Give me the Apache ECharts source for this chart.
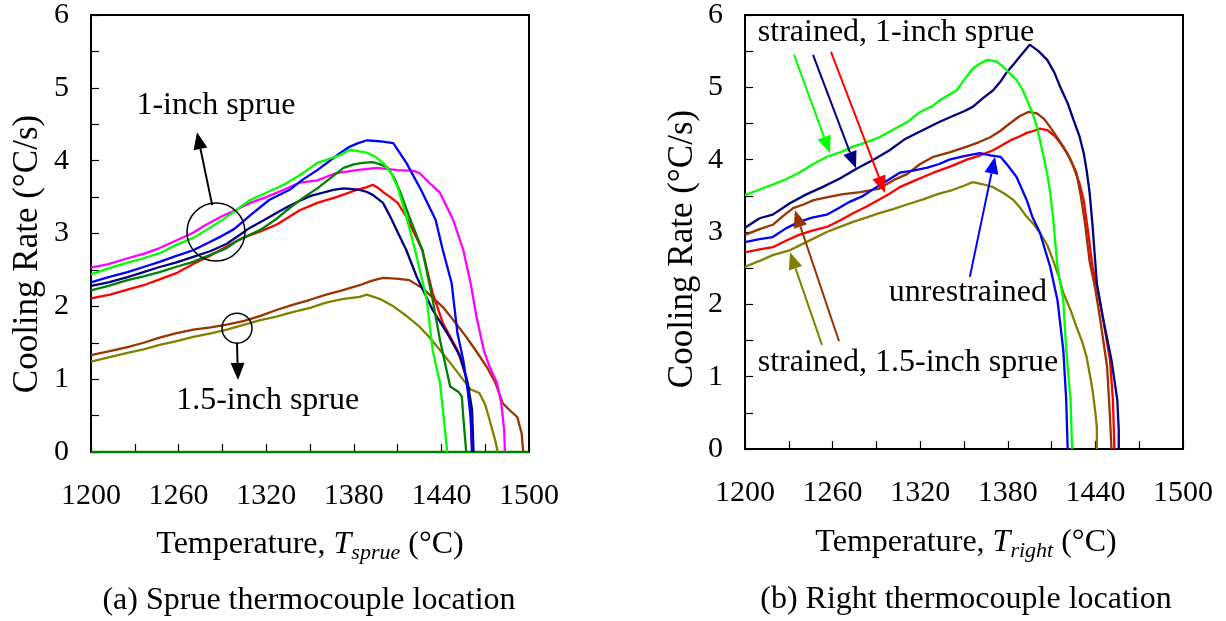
<!DOCTYPE html>
<html><head><meta charset="utf-8">
<script src="https://cdn.jsdelivr.net/npm/echarts@6/dist/echarts.min.js"></script>
<style>html,body{margin:0;padding:0;background:#fff}#c{width:1226px;height:621px}</style>
</head><body><div id="c"></div>
<script>
const FONT = '"Liberation Serif","Times New Roman",serif';
const xTickLabels = [1200, 1260, 1320, 1380, 1440, 1500];
const yTickLabels = [0, 1, 2, 3, 4, 5, 6];

// (a) Sprue thermocouple location  [T (°C), cooling rate (°C/s)]
const sprueMagenta = [[1200,2.53],[1212,2.58],[1225,2.66],[1236,2.72],[1247,2.8],[1258,2.9],[1270,3.01],[1277,3.1],[1290,3.24],[1300,3.33],[1309,3.42],[1320,3.5],[1332,3.6],[1343,3.7],[1355,3.73],[1368,3.83],[1382,3.87],[1396,3.9],[1410,3.87],[1421,3.86],[1425,3.83],[1432,3.69],[1439,3.56],[1448,3.19],[1455,2.77],[1460,2.32],[1464,1.86],[1469,1.4],[1473,1.17],[1478,0.95],[1481,0.67],[1483,0.3],[1483.5,0]];
const sprueGreen = [[1200,2.44],[1212,2.52],[1225,2.6],[1236,2.66],[1247,2.73],[1258,2.84],[1270,2.94],[1280,3.06],[1288,3.16],[1298,3.3],[1309,3.46],[1320,3.56],[1332,3.67],[1343,3.8],[1355,3.97],[1364,4.03],[1371,4.08],[1377,4.15],[1383,4.13],[1389,4.11],[1395,4.05],[1400,3.97],[1405,3.85],[1410,3.64],[1416,3.23],[1422,2.77],[1430,2.09],[1434,1.4],[1439,0.95],[1441,0.58],[1443,0.2],[1444,0]];
const sprueBlue = [[1200,2.33],[1212,2.4],[1225,2.47],[1236,2.54],[1247,2.61],[1258,2.69],[1270,2.77],[1280,2.87],[1288,2.95],[1298,3.06],[1309,3.25],[1322,3.46],[1336,3.6],[1345,3.74],[1355,3.87],[1363,3.99],[1371,4.11],[1377,4.19],[1383,4.24],[1389,4.28],[1395,4.27],[1400,4.26],[1407,4.24],[1411,4.12],[1416,3.97],[1426,3.6],[1436,3.19],[1441,2.77],[1447,2.32],[1451,1.63],[1455,1.26],[1458,0.85],[1460,0.48],[1461,0]];
const sprueNavy = [[1200,2.28],[1212,2.33],[1225,2.4],[1236,2.47],[1247,2.54],[1258,2.6],[1270,2.68],[1282,2.76],[1293,2.86],[1301,2.97],[1309,3.08],[1318,3.18],[1327,3.28],[1335,3.37],[1343,3.45],[1351,3.52],[1359,3.56],[1366,3.6],[1373,3.62],[1379,3.61],[1384,3.6],[1389,3.57],[1393,3.53],[1400,3.42],[1405,3.23],[1410,3.02],[1416,2.77],[1423,2.41],[1434,1.95],[1444,1.63],[1453,1.31],[1458,0.95],[1461,0.58],[1462,0]];
const sprueDarkGreen = [[1200,2.22],[1212,2.28],[1225,2.36],[1236,2.41],[1247,2.47],[1258,2.54],[1270,2.61],[1282,2.71],[1293,2.8],[1300,2.9],[1316,3.05],[1327,3.2],[1336,3.35],[1346,3.5],[1355,3.62],[1364,3.76],[1373,3.9],[1380,3.95],[1386,3.97],[1393,3.98],[1398,3.95],[1403,3.91],[1408,3.75],[1412,3.56],[1418,3.23],[1427,2.77],[1434,2.09],[1439,1.54],[1444,1.08],[1446,0.9],[1452,0.82],[1454,0.76],[1455,0.48],[1457,0]];
const sprueRed = [[1200,2.11],[1213,2.16],[1225,2.23],[1236,2.29],[1247,2.37],[1259,2.46],[1270,2.58],[1282,2.7],[1293,2.82],[1304,2.94],[1316,3.03],[1327,3.12],[1335,3.22],[1343,3.32],[1355,3.42],[1368,3.5],[1382,3.6],[1388,3.63],[1393,3.67],[1397,3.62],[1400,3.57],[1405,3.5],[1410,3.42],[1416,3.23],[1427,2.77],[1434,2.18],[1441,1.77],[1451,1.4],[1457,1.03],[1460,0.58],[1461,0]];
const sprueBrown = [[1200,1.33],[1212,1.38],[1225,1.44],[1236,1.5],[1247,1.57],[1258,1.63],[1270,1.68],[1282,1.71],[1293,1.75],[1305,1.8],[1316,1.87],[1327,1.95],[1338,2.02],[1350,2.09],[1361,2.16],[1372,2.22],[1384,2.29],[1392,2.35],[1400,2.39],[1409,2.38],[1418,2.36],[1427,2.25],[1434,2.12],[1441,1.99],[1449,1.79],[1457,1.58],[1464,1.38],[1471,1.17],[1477,0.95],[1482,0.67],[1487,0.57],[1492,0.48],[1495,0.25],[1496,0]];
const sprueOlive = [[1200,1.24],[1212,1.3],[1225,1.36],[1236,1.41],[1247,1.47],[1258,1.52],[1270,1.58],[1282,1.63],[1293,1.68],[1305,1.75],[1316,1.81],[1327,1.86],[1338,1.92],[1350,1.98],[1361,2.05],[1372,2.1],[1384,2.13],[1389,2.16],[1398,2.1],[1407,2.0],[1416,1.87],[1425,1.72],[1432,1.57],[1439,1.4],[1447,1.2],[1455,0.99],[1460,0.86],[1466,0.81],[1470,0.65],[1473,0.44],[1477,0.15],[1478.5,0]];
const sprueZero = [[1200,0],[1500,0]];

// (b) Right thermocouple location
const rightGreen = [[1200,3.51],[1209,3.58],[1218,3.65],[1228,3.73],[1237,3.82],[1246,3.93],[1256,4.04],[1265,4.1],[1274,4.18],[1283,4.24],[1292,4.31],[1302,4.42],[1311,4.52],[1320,4.66],[1329,4.75],[1334,4.83],[1340,4.9],[1345,4.96],[1350,5.1],[1356,5.26],[1361,5.33],[1366,5.38],[1372,5.36],[1376,5.3],[1379,5.24],[1386,5.1],[1390,4.97],[1393,4.83],[1397,4.64],[1400,4.45],[1404,4.09],[1407,3.8],[1409,3.55],[1411,3.2],[1414,2.52],[1418,2.06],[1420,1.37],[1423,0.68],[1424,0]];
const rightNavy = [[1200,3.06],[1210,3.19],[1219,3.24],[1231,3.4],[1242,3.52],[1253,3.62],[1265,3.74],[1277,3.88],[1288,4.0],[1299,4.13],[1310,4.29],[1322,4.41],[1333,4.52],[1342,4.6],[1350,4.67],[1356,4.73],[1363,4.85],[1370,4.96],[1375,5.08],[1379,5.2],[1384,5.32],[1388,5.42],[1395,5.59],[1401,5.5],[1407,5.38],[1412,5.2],[1416,5.0],[1421,4.78],[1425,4.55],[1429,4.33],[1432,4.09],[1434,3.85],[1436,3.55],[1438,3.1],[1441,2.29],[1445,1.83],[1451,1.23],[1455,0.68],[1456,0.26],[1456,0]];
const rightBrown = [[1200,2.96],[1210,3.04],[1219,3.1],[1226,3.22],[1233,3.33],[1240,3.38],[1247,3.44],[1256,3.48],[1266,3.52],[1279,3.55],[1292,3.6],[1302,3.72],[1311,3.8],[1320,3.94],[1329,4.04],[1340,4.1],[1352,4.18],[1360,4.24],[1368,4.31],[1375,4.4],[1382,4.51],[1388,4.6],[1394,4.66],[1400,4.64],[1405,4.56],[1409,4.45],[1414,4.3],[1418,4.18],[1423,4.0],[1427,3.82],[1430,3.5],[1433,3.1],[1436,2.6],[1440,2.2],[1443,1.83],[1448,1.14],[1450,0.44],[1451,0]];
const rightBlue = [[1200,2.86],[1210,2.9],[1219,2.93],[1228,3.05],[1237,3.14],[1246,3.2],[1256,3.24],[1264,3.33],[1272,3.42],[1281,3.5],[1290,3.62],[1298,3.72],[1306,3.82],[1315,3.85],[1325,3.89],[1333,3.94],[1340,4.0],[1350,4.05],[1361,4.09],[1368,4.06],[1375,4.04],[1380,3.92],[1386,3.76],[1393,3.44],[1397,3.2],[1402,2.99],[1409,2.52],[1414,2.06],[1418,1.37],[1420,0.68],[1421,0]];
const rightRed = [[1200,2.72],[1210,2.76],[1219,2.79],[1228,2.88],[1237,2.96],[1246,3.02],[1256,3.07],[1265,3.16],[1274,3.26],[1283,3.35],[1292,3.45],[1299,3.53],[1306,3.62],[1315,3.7],[1329,3.82],[1340,3.9],[1352,4.0],[1361,4.06],[1370,4.13],[1376,4.2],[1382,4.27],[1388,4.32],[1393,4.37],[1398,4.4],[1402,4.43],[1407,4.41],[1412,4.33],[1416,4.23],[1421,4.08],[1425,3.9],[1429,3.68],[1432,3.44],[1435,3.0],[1438,2.52],[1442,2.15],[1445,1.83],[1450,1.23],[1452,0.68],[1453,0]];
const rightOlive = [[1200,2.52],[1210,2.6],[1219,2.68],[1231,2.75],[1242,2.86],[1256,3.0],[1265,3.07],[1274,3.14],[1283,3.2],[1292,3.26],[1302,3.32],[1311,3.38],[1322,3.45],[1333,3.53],[1342,3.58],[1350,3.64],[1356,3.69],[1363,3.66],[1370,3.62],[1377,3.54],[1384,3.44],[1389,3.32],[1393,3.21],[1398,3.1],[1402,2.99],[1407,2.82],[1411,2.61],[1415,2.38],[1418,2.16],[1423,1.92],[1427,1.69],[1431,1.48],[1434,1.27],[1436,1.05],[1438,0.82],[1440,0.5],[1441,0.3],[1441,0]];

const C = {magenta:'#ff00ff', green:'#00ff00', blue:'#0000ff', navy:'#000080', dgreen:'#008000', red:'#ff0000', brown:'#993300', olive:'#808000'};

const chart = echarts.init(document.getElementById('c'), null, {renderer:'canvas'});

function xAxisCfg(gi){
  return {gridIndex:gi, type:'value', min:1200, max:1500, interval:30,
    axisLine:{show:true, onZero:false, lineStyle:{color:'#000', width:2}},
    axisTick:{show:true, inside:true, length:8, lineStyle:{color:'#000', width:1.2}},
    splitLine:{show:false},
    axisLabel:{show:true, showMinLabel:true, showMaxLabel:true, margin:29, color:'#000', fontFamily:FONT, fontSize:30,
      formatter:v=> xTickLabels.includes(Math.round(v)) ? String(Math.round(v)) : ''}};
}
function yAxisCfg(gi){
  return {gridIndex:gi, type:'value', min:0, max:6, interval:0.5,
    axisLine:{show:true, lineStyle:{color:'#000', width:2}},
    axisTick:{show:true, inside:true, length:8, lineStyle:{color:'#000', width:1.2}},
    splitLine:{show:false},
    axisLabel:{show:true, showMinLabel:true, showMaxLabel:true, margin:22, color:'#000', fontFamily:FONT, fontSize:30,
      formatter:v=> yTickLabels.includes(v) ? String(v) : ''}};
}
function line(gi, data, color, w){
  return {type:'line', xAxisIndex:gi, yAxisIndex:gi, data:data, showSymbol:false, symbol:'none',
    lineStyle:{color:color, width:w||2.3}, itemStyle:{color:color}, animation:false, silent:true, clip:false};
}

chart.setOption({
  animation:false,
  backgroundColor:'#fff',
  grid:[
    {left:91, top:15, width:438, height:437, show:true, borderColor:'#000', borderWidth:2, backgroundColor:'transparent'},
    {left:745, top:15, width:438, height:434, show:true, borderColor:'#000', borderWidth:2, backgroundColor:'transparent'}
  ],
  xAxis:[xAxisCfg(0), xAxisCfg(1)],
  yAxis:[yAxisCfg(0), yAxisCfg(1)],
  series:[
    line(0, sprueZero, C.dgreen, 2.5),
    line(0, sprueBrown, C.brown),
    line(0, sprueOlive, C.olive),
    line(0, sprueMagenta, C.magenta),
    line(0, sprueRed, C.red),
    line(0, sprueNavy, C.navy),
    line(0, sprueDarkGreen, C.dgreen),
    line(0, sprueBlue, C.blue),
    line(0, sprueGreen, C.green),
    line(1, rightOlive, C.olive),
    line(1, rightRed, C.red),
    line(1, rightBrown, C.brown),
    line(1, rightBlue, C.blue),
    line(1, rightNavy, C.navy),
    line(1, rightGreen, C.green)
  ]
});

// annotations in data coordinates
const notes = {
  sprue: {
    texts: [{t:'1-inch sprue', p:[1285.6,4.76]}, {t:'1.5-inch sprue', p:[1321,0.71]}],
    circles: [{p:[1285.6,3.02], r:29}, {p:[1300,1.70], r:15}],
    arrows: [{a:[1283,3.39], b:[1272.6,4.39], c:'#000'}, {a:[1300,1.5], b:[1300.7,0.99], c:'#000'}]
  },
  right: {
    texts: [{t:'strained, 1-inch sprue', p:[1303.4,5.75]}, {t:'unrestrained', p:[1352.7,2.16]}, {t:'strained, 1.5-inch sprue', p:[1311.6,1.2]}],
    circles: [],
    arrows: [
      {a:[1233.6,5.45], b:[1258.2,4.09], c:C.green},
      {a:[1246.6,5.45], b:[1276,3.88], c:C.navy},
      {a:[1258.9,5.49], b:[1295.9,3.54], c:C.red},
      {a:[1354,2.38], b:[1371.2,4.04], c:C.blue},
      {a:[1252.7,1.44], b:[1230.8,2.72], c:C.olive},
      {a:[1264.4,1.49], b:[1234.2,3.3], c:C.brown}
    ]
  }
};

const g = [];
function px(gi, p){ return chart.convertToPixel({gridIndex:gi}, p); }
function addNotes(gi, n){
  n.texts.forEach(o=>{
    const q = px(gi, o.p);
    g.push({type:'text', x:q[0], y:q[1], silent:true, z:100,
      style:{text:o.t, fontFamily:FONT, fontSize:32, fill:'#000', align:'center', verticalAlign:'middle'}});
  });
  n.circles.forEach(o=>{
    const q = px(gi, o.p);
    g.push({type:'circle', shape:{cx:q[0], cy:q[1], r:o.r}, silent:true, z:100,
      style:{fill:'none', stroke:'#000', lineWidth:1.5}});
  });
  n.arrows.forEach(o=>{
    const A = px(gi, o.a), B = px(gi, o.b);
    const dx = B[0]-A[0], dy = B[1]-A[1], L = Math.hypot(dx,dy);
    const ux = dx/L, uy = dy/L, hl = 17, hw = 7;
    const bx = B[0]-ux*hl, by = B[1]-uy*hl;
    g.push({type:'line', shape:{x1:A[0], y1:A[1], x2:bx, y2:by}, silent:true, z:100,
      style:{stroke:o.c, lineWidth:2}});
    g.push({type:'polygon', shape:{points:[[B[0],B[1]],[bx-uy*hw, by+ux*hw],[bx+uy*hw, by-ux*hw]]}, silent:true, z:100,
      style:{fill:o.c}});
  });
}
addNotes(0, notes.sprue);
addNotes(1, notes.right);

// axis titles and captions
function yTitle(x, y){
  return {type:'text', x:x, y:y, rotation:Math.PI/2, silent:true,
    style:{text:'Cooling Rate (°C/s)', fontFamily:FONT, fontSize:35, fill:'#000', align:'center', verticalAlign:'middle'}};
}
function xTitle(x, y, sub){
  return {type:'text', x:x, y:y, silent:true,
    style:{text:'Temperature, {i|T}{s|'+sub+'} (°C)', fontFamily:FONT, fontSize:32, lineHeight:38, fill:'#000', align:'center', verticalAlign:'middle',
      rich:{i:{fontFamily:FONT, fontSize:32, fontStyle:'italic', lineHeight:38},
            s:{fontFamily:FONT, fontSize:22, fontStyle:'italic', lineHeight:16, verticalAlign:'bottom'}}}};
}
function caption(x, y, t){
  return {type:'text', x:x, y:y, silent:true,
    style:{text:t, fontFamily:FONT, fontSize:32, fill:'#000', align:'center', verticalAlign:'middle'}};
}
g.push(yTitle(28, 254));
g.push(yTitle(683, 249));
g.push(xTitle(310, 545, 'sprue'));
g.push(xTitle(966, 543, 'right'));
g.push(caption(309, 601, '(a) Sprue thermocouple location'));
g.push(caption(966, 600, '(b) Right thermocouple location'));

chart.setOption({graphic:{elements:g}});
</script>
</body></html>
